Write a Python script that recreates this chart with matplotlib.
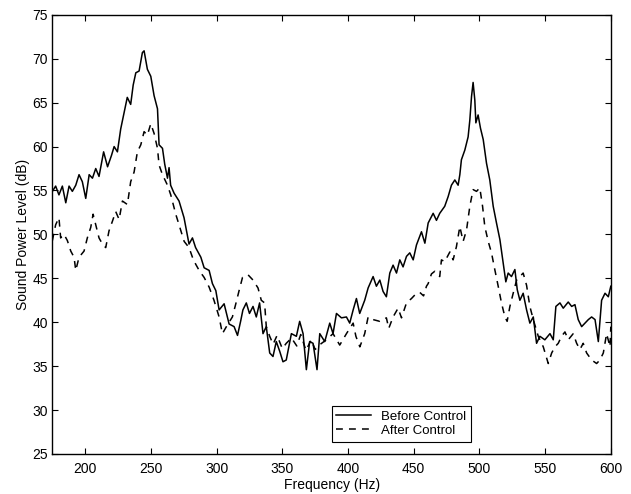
import matplotlib
matplotlib.use('Agg')
import matplotlib.pyplot as plt

plt.rcParams['font.family'] = ['Liberation Sans', 'DejaVu Sans']

# Before Control (solid) -- frequency (Hz), level (dB)
before_f = [175, 177.5, 180, 182.6, 185.2, 187.7, 190.2, 192.8, 195.3, 197.8,
            200.4, 203, 205.5, 208, 210.5, 214, 217, 220, 222, 224.5,
            227, 229.6, 232, 234.6, 236.5, 238.5, 241, 243.5, 244.8, 247.3,
            249.9, 252.4, 255, 256.2, 258.8, 260.5, 262.6, 263.8, 265, 267.6,
            271.4, 275.2, 279, 281.6, 284, 288, 290.5, 294.3, 296.8, 299.4,
            301.9, 305.7, 309.5, 313.3, 315.9, 318.4, 320, 322.6, 325, 327.7,
            330.2, 332.7, 335.3, 337.8, 340.4, 342.9, 345.4, 348, 350.5, 353,
            356.9, 360.7, 363.2, 365.8, 368.3, 370.8, 373.4, 376.4, 378.5, 382.3,
            386.1, 388.6, 391.2, 395, 398.8, 401.3, 403.9, 406.4, 408.9, 412.7,
            415.3, 419.1, 421.6, 424.2, 426.7, 429.2, 431.8, 434.3, 436.9, 439.4,
            441.9, 444.5, 447, 449.6, 452.1, 455.9, 458.5, 461, 464.8, 467.3,
            469.8, 473.6, 476.2, 478.7, 481.3, 483.8, 485.1, 486.3, 488.9, 491.4,
            492.7, 494, 495.2, 496.5, 497.3, 499, 500.8, 502.9, 505.4, 507.9,
            510.5, 513, 515.6, 518.1, 520.1, 521.9, 524.4, 527, 528.8, 530.8,
            533.3, 535.9, 538.4, 541, 543.5, 546, 549.8, 553.7, 556.2, 558.2,
            561.3, 563.8, 567.6, 570.2, 572.7, 575.2, 577.8, 580.3, 582.9, 585.4,
            588, 590.5, 593, 595.6, 598.1, 600]
before_db = [54.9, 55.5, 54.5, 55.5, 53.6, 55.5, 54.9, 55.6, 56.8, 56.0,
             54.1, 56.8, 56.4, 57.5, 56.6, 59.4, 57.7, 59.0, 60.0, 59.4,
             62.0, 63.9, 65.6, 64.8, 67.0, 68.4, 68.6, 70.7, 70.9, 68.8,
             68.0, 65.8, 64.3, 60.2, 59.8, 58.0, 56.4, 57.6, 55.6, 54.7,
             53.8, 51.9, 48.9, 49.6, 48.5, 47.4, 46.2, 45.9, 44.4, 43.6,
             41.4, 42.1, 39.8, 39.5, 38.5, 40.2, 41.4, 42.2, 41.0, 41.8,
             40.6, 42.2, 38.7, 39.5, 36.5, 36.1, 37.8, 36.7, 35.5, 35.7,
             38.7, 38.4, 40.1, 38.7, 34.6, 37.8, 37.6, 34.6, 38.7, 37.8,
             39.9, 38.7, 41.0, 40.5, 40.6, 39.9, 41.4, 42.7, 41.0, 42.5,
             43.9, 45.2, 44.1, 44.8, 43.5, 42.9, 45.6, 46.5, 45.6, 47.1,
             46.3, 47.5, 47.9, 47.1, 48.8, 50.3, 49.0, 51.3, 52.4, 51.6,
             52.4, 53.2, 54.3, 55.6, 56.2, 55.6, 56.8, 58.5, 59.6, 61.1,
             63.0, 65.7, 67.3, 65.3, 62.7, 63.6, 62.1, 60.8, 58.1, 56.2,
             53.2, 51.3, 49.4, 46.7, 44.6, 45.6, 45.2, 46.0, 43.7, 42.5,
             43.3, 41.4, 39.9, 40.6, 37.6, 38.4, 38.0, 38.7, 38.0, 41.8,
             42.2, 41.6, 42.3, 41.8, 42.0, 40.3, 39.5, 39.9, 40.3, 40.6,
             40.3, 37.8, 42.5, 43.3, 42.9, 44.1]

# After Control (dashed)
after_f = [175, 177.5, 180, 181.3, 183.9, 186.4, 189, 191.5, 192.8, 195.3,
           199.1, 201.6, 204.2, 206, 208, 210.5, 213.1, 215.6, 218.1, 220.7,
           223.2, 225.8, 228.3, 232.1, 234.6, 237.2, 239.7, 242.3, 244.8, 247.3,
           249.9, 252.4, 255, 256.2, 258.8, 262.6, 265.1, 268.9, 271.4, 275.3,
           279, 281.6, 284.1, 286.7, 290.5, 294.3, 298, 301.9, 304.4, 308.2,
           312, 314.6, 317.1, 319.7, 323.9, 327.7, 331.5, 334, 336.5, 337.8,
           340.4, 343, 346, 350, 353, 357, 361, 364, 368, 372,
           375, 379, 383.5, 388.6, 393.7, 398.8, 403.9, 406, 409, 412.7,
           415.3, 419.1, 424.2, 429.2, 431, 434.3, 438.1, 440.7, 444.5, 448.3,
           452.1, 454.6, 457.5, 459.7, 461, 463.5, 466, 469.8, 471.1, 473.6,
           477.5, 480, 482.5, 485.1, 487.6, 490.2, 492.7, 495.2, 497.8, 500.3,
           502.4, 504.1, 506.7, 509.2, 511.7, 514.3, 516.8, 519.4, 521.1, 523.2,
           525.7, 528.3, 530.8, 533.3, 535.9, 538.4, 541, 544.8, 548.6, 552.4,
           555, 557.5, 560, 562.5, 565.1, 567.6, 571.4, 574, 576.5, 579,
           581.6, 585.4, 589.2, 591.7, 594.3, 596.8, 599.4, 600]
after_db = [49.3, 51.1, 51.9, 49.6, 50.0, 49.3, 48.1, 47.4, 45.9, 47.4,
            48.1, 49.6, 50.8, 52.3, 51.1, 49.6, 48.9, 48.5, 50.4, 51.5,
            52.6, 51.7, 53.8, 53.4, 56.0, 57.1, 59.4, 60.2, 61.7, 61.3,
            62.6, 61.5, 59.8, 57.9, 56.8, 55.6, 54.5, 52.3, 51.1, 49.2,
            48.5, 47.4, 46.6, 45.9, 45.1, 44.0, 42.5, 40.6, 38.7, 39.7,
            40.6, 42.1, 43.6, 45.1, 45.4, 44.8, 43.9, 42.5, 42.2, 39.5,
            38.4, 37.5, 38.5, 37.0, 37.6, 38.2, 37.3, 38.6, 36.8, 38.0,
            36.9, 37.5, 38.0, 38.7, 37.4, 38.7, 39.9, 38.4, 37.2, 38.7,
            40.6, 40.3, 40.1, 40.5, 39.3, 40.6, 41.6, 40.5, 42.2, 42.7,
            43.3, 43.4, 43.0, 44.1, 44.4, 45.5, 45.8, 45.2, 47.1, 46.9,
            48.0, 47.1, 48.6, 50.9, 49.2, 50.5, 53.2, 55.1, 54.9, 55.3,
            53.2, 50.9, 49.2, 47.9, 46.0, 44.1, 42.2, 40.6, 40.1, 41.8,
            43.3, 44.8, 45.2, 45.6, 44.2, 41.8, 40.3, 38.4, 37.2, 35.3,
            36.5, 37.2, 37.6, 38.4, 38.9, 38.0, 38.7, 37.6, 36.9, 37.6,
            36.5, 35.7, 35.3, 35.7, 36.5, 38.7, 37.2, 39.5]

x_ticks = [200, 250, 300, 350, 400, 450, 500, 550, 600]
y_ticks = [25, 30, 35, 40, 45, 50, 55, 60, 65, 70, 75]


def main():
    fig = plt.figure(figsize=(6.31, 4.94), dpi=100)
    ax = fig.add_axes([0.083, 0.081, 0.885, 0.889])

    ax.plot(before_f, before_db, color='black', linewidth=1.1,
            linestyle='-', label='Before Control')
    ax.plot(after_f, after_db, color='black', linewidth=1.1,
            linestyle=(0, (4.5, 4)), label='After Control')

    ax.set_xlim(175, 600)
    ax.set_ylim(25, 75)
    ax.set_xticks(x_ticks)
    ax.set_yticks(y_ticks)
    ax.tick_params(direction='in', top=True, right=True, length=4,
                   width=0.8, labelsize=10)
    ax.tick_params(axis='x', pad=6)
    ax.tick_params(axis='y', pad=3)
    for s in ax.spines.values():
        s.set_linewidth(1.0)

    ax.set_xlabel('Frequency (Hz)', fontsize=10, labelpad=1)
    ax.set_ylabel('Sound Power Level (dB)', fontsize=10, labelpad=2)

    leg = ax.legend(loc='lower left', bbox_to_anchor=(0.5, 0.028),
                    fontsize=9.5, fancybox=False, framealpha=1,
                    edgecolor='black', handlelength=2.6, borderpad=0.35,
                    labelspacing=0.15, handletextpad=0.8, borderaxespad=0)
    leg.get_frame().set_linewidth(0.8)

    fig.savefig('out.png', dpi=100, facecolor='white')
    plt.close(fig)


if __name__ == '__main__':
    main()
